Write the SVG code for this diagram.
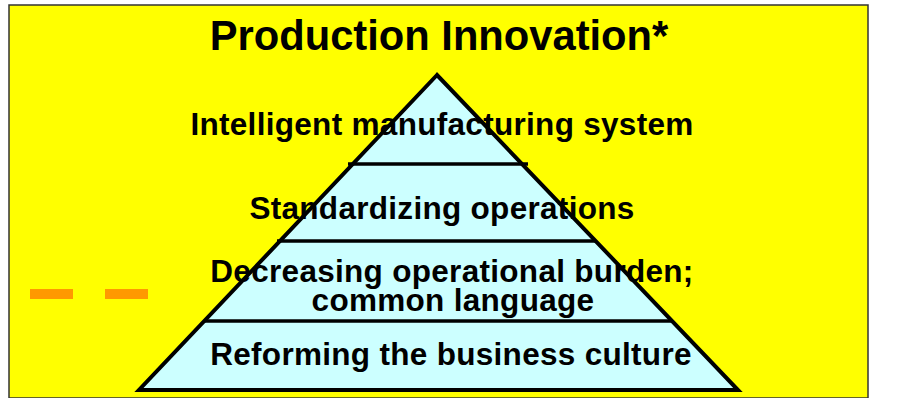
<svg xmlns="http://www.w3.org/2000/svg" width="898" height="398" viewBox="0 0 898 398">
<style>
.t{font-family:"Liberation Sans",Arial,sans-serif;font-weight:bold;fill:#000;text-anchor:middle}
.lbl{font-size:31.5px;letter-spacing:0.3px}
.ln{stroke:#000;stroke-width:3.5;fill:none}
</style>
<rect x="0" y="0" width="898" height="398" fill="#fff"/>
<rect x="9" y="5" width="859" height="393" fill="#ffff00" stroke="#333" stroke-width="1.5"/>
<g id="title"><text class="t" x="439" y="50" font-size="41.7">Production Innovation*</text></g>
<g id="dashes">
<rect x="30" y="289" width="43" height="10" fill="#ff9900"/>
<rect x="105" y="289" width="43" height="10" fill="#ff9900"/>
</g>
<g id="pyramid">
<polygon points="437,75 139,390 738,390" fill="#ccffff" stroke="#000" stroke-width="4" stroke-linejoin="miter"/>
</g>
<g id="connectors">
<line class="ln" x1="348" y1="164" x2="528" y2="164"/>
<line class="ln" x1="277" y1="241" x2="596" y2="241"/>
<line class="ln" x1="205" y1="321" x2="673" y2="321"/>
</g>
<g id="level4"><text class="t lbl" x="442" y="135">Intelligent manufacturing system</text></g>
<g id="level3"><text class="t lbl" x="442" y="219">Standardizing operations</text></g>
<g id="level2"><text class="t lbl" y="282"><tspan x="452">Decreasing operational burden;</tspan><tspan x="453" y="311">common language</tspan></text></g>
<g id="level1"><text class="t lbl" x="451" y="365">Reforming the business culture</text></g>
</svg>
